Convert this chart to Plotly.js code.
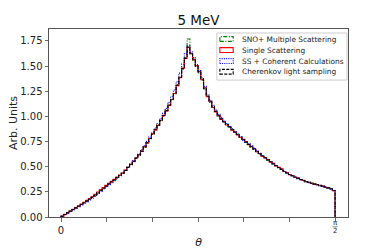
<!DOCTYPE html>
<html>
<head>
<meta charset="utf-8">
<script src="https://cdn.plot.ly/plotly-3.0.1.min.js"></script>
<style>html,body{margin:0;padding:0;background:#fff;}#chart{width:389px;height:249px;}</style>
</head>
<body>
<div id="chart"></div>
<script>
// Histogram: 100 bins between 0 and pi/2
const nBins = 100;
const thetaMax = Math.PI / 2;

const seriesNames = ["SNO+ Multiple Scattering", "Single Scattering", "SS + Coherent Calculations", "Cherenkov light sampling"];

const snoMultipleScattering = [0.008,0.024,0.041,0.057,0.074,0.090,0.108,0.125,0.142,0.160,
0.177,0.196,0.218,0.241,0.265,0.287,0.308,0.330,0.350,0.369,
0.393,0.414,0.437,0.463,0.495,0.523,0.550,0.586,0.617,0.652,
0.697,0.735,0.778,0.825,0.870,0.915,0.958,1.005,1.060,1.115,
1.165,1.225,1.315,1.388,1.470,1.585,1.770,1.620,1.560,1.495,
1.430,1.360,1.272,1.205,1.140,1.090,1.050,1.000,0.978,0.942,
0.922,0.893,0.870,0.840,0.822,0.792,0.770,0.742,0.725,0.695,
0.677,0.650,0.630,0.604,0.588,0.565,0.550,0.528,0.512,0.490,
0.475,0.453,0.438,0.422,0.411,0.396,0.386,0.372,0.363,0.351,
0.345,0.335,0.329,0.320,0.315,0.306,0.299,0.289,0.282,0.264];

const singleScattering = [0.009,0.026,0.043,0.060,0.077,0.094,0.111,0.128,0.146,0.165,
0.184,0.204,0.225,0.248,0.272,0.294,0.314,0.334,0.354,0.374,
0.396,0.417,0.438,0.466,0.494,0.524,0.556,0.588,0.618,0.656,
0.698,0.738,0.782,0.826,0.866,0.911,0.962,1.010,1.055,1.110,
1.168,1.228,1.305,1.385,1.480,1.575,1.685,1.625,1.565,1.505,
1.445,1.365,1.285,1.195,1.150,1.090,1.045,1.010,0.970,0.950,
0.915,0.900,0.862,0.848,0.815,0.790,0.772,0.750,0.718,0.702,
0.680,0.648,0.632,0.602,0.590,0.572,0.545,0.534,0.508,0.495,
0.478,0.452,0.440,0.420,0.412,0.395,0.388,0.370,0.364,0.350,
0.346,0.338,0.325,0.323,0.311,0.309,0.296,0.292,0.279,0.262];

const ssCoherent = [0.007,0.023,0.039,0.055,0.071,0.087,0.103,0.120,0.136,0.153,
0.170,0.188,0.208,0.230,0.254,0.278,0.300,0.322,0.342,0.362,
0.386,0.410,0.432,0.462,0.494,0.526,0.560,0.592,0.625,0.668,
0.708,0.752,0.796,0.838,0.884,0.930,0.978,1.030,1.080,1.140,
1.195,1.262,1.345,1.430,1.520,1.625,1.700,1.640,1.585,1.515,
1.455,1.385,1.300,1.215,1.160,1.110,1.065,1.020,0.990,0.955,
0.930,0.900,0.878,0.850,0.825,0.798,0.762,0.740,0.728,0.705,
0.682,0.660,0.634,0.612,0.592,0.570,0.552,0.528,0.512,0.490,
0.472,0.452,0.436,0.420,0.408,0.395,0.382,0.371,0.360,0.350,
0.342,0.333,0.327,0.319,0.312,0.305,0.297,0.288,0.279,0.262];

const cherenkovSampling = [0.008,0.025,0.041,0.058,0.074,0.091,0.107,0.124,0.141,0.158,
0.176,0.195,0.216,0.240,0.264,0.286,0.307,0.328,0.348,0.368,
0.391,0.413,0.435,0.464,0.493,0.521,0.552,0.584,0.615,0.654,
0.695,0.737,0.780,0.823,0.868,0.913,0.960,1.007,1.058,1.113,
1.170,1.230,1.310,1.390,1.475,1.580,1.690,1.630,1.570,1.500,
1.440,1.370,1.280,1.200,1.145,1.095,1.050,1.005,0.975,0.945,
0.920,0.895,0.868,0.843,0.820,0.795,0.768,0.745,0.722,0.698,
0.675,0.652,0.628,0.606,0.587,0.568,0.549,0.530,0.510,0.492,
0.473,0.455,0.437,0.423,0.410,0.397,0.385,0.373,0.362,0.352,
0.344,0.336,0.328,0.321,0.314,0.307,0.298,0.290,0.281,0.263];

const yTickVals = [0, 0.25, 0.5, 0.75, 1.0, 1.25, 1.5, 1.75];
const xTickVals = [0, Math.PI/12, 2*Math.PI/12, 3*Math.PI/12, 4*Math.PI/12, 5*Math.PI/12, Math.PI/2];
const xTickText = ["0", "", "", "", "", "", ""];

// step outline like a matplotlib step histogram
function stepTrace(vals, name, color, dash) {
  const edges = [];
  for (let i = 0; i <= nBins; i++) edges.push(i * thetaMax / nBins);
  const x = [edges[0]], y = [0];
  for (let i = 0; i < nBins; i++) { x.push(edges[i]); y.push(vals[i]); }
  x.push(edges[nBins]); y.push(vals[nBins-1]);
  x.push(edges[nBins]); y.push(0);
  return {x: x, y: y, type: "scatter", mode: "lines", name: name,
          line: {shape: "hv", color: color, width: 1.1, dash: dash},
          showlegend: false, hoverinfo: "skip"};
}

const colors = ["#008000", "#ff0000", "#0000ff", "#000000"];
const dashes = ["4px,1.5px,1px,1.5px", "solid", "1px,1.2px", "3px,1.4px"];
const allSeries = [snoMultipleScattering, singleScattering, ssCoherent, cherenkovSampling];
const traces = allSeries.map((s, i) => stepTrace(s, seriesNames[i], colors[i], dashes[i]));

// plot-area geometry (px) for the hand-made legend
const L = 49.3, R = 348, T = 29, B = 216.7;
const px2x = p => (p - L) / (R - L);
const px2y = p => (B - p) / (B - T);

const shapes = [];
const annotations = [];
shapes.push({type: "rect", xref: "paper", yref: "paper",
  x0: px2x(217), x1: px2x(347), y0: px2y(80), y1: px2y(33),
  line: {color: "#cccccc", width: 1}, fillcolor: "rgba(255,255,255,0.85)", layer: "above"});
const rowY = [39, 50, 61, 71.7];
for (let i = 0; i < 4; i++) {
  shapes.push({type: "rect", xref: "paper", yref: "paper",
    x0: px2x(220), x1: px2x(233.3), y0: px2y(rowY[i] + 2.4), y1: px2y(rowY[i] - 2.4),
    line: {color: colors[i], width: 1.1, dash: dashes[i]},
    fillcolor: "rgba(0,0,0,0)", layer: "above"});
  annotations.push({xref: "paper", yref: "paper", x: px2x(240), y: px2y(rowY[i]),
    xanchor: "left", yanchor: "middle", showarrow: false, text: seriesNames[i],
    font: {family: "DejaVu Sans", size: 7.4, color: "#222"}});
}
// pi/2 tick label as stacked fraction
annotations.push({xref: "x", yref: "paper", x: Math.PI/2, y: px2y(222.5), xanchor: "center", yanchor: "middle",
  showarrow: false, text: "π", font: {family: "DejaVu Sans", size: 7, color: "#222"}});
annotations.push({xref: "x", yref: "paper", x: Math.PI/2, y: px2y(230.5), xanchor: "center", yanchor: "middle",
  showarrow: false, text: "2", font: {family: "DejaVu Sans", size: 7, color: "#222"}});
shapes.push({type: "line", xref: "x", yref: "paper", x0: Math.PI/2 - 0.014, x1: Math.PI/2 + 0.014,
  y0: px2y(226.5), y1: px2y(226.5), line: {color: "#555", width: 0.7}});

const layout = {
  width: 389, height: 249,
  margin: {l: 49, r: 41, t: 29, b: 32, pad: 0},
  paper_bgcolor: "#fff", plot_bgcolor: "#fff",
  font: {family: "DejaVu Sans", color: "#222"},
  title: {text: "5 MeV", font: {family: "DejaVu Sans", size: 13.5, color: "#111"},
          x: 0.5, xref: "paper", y: 1 - 20.5/249, yref: "container", xanchor: "center", yanchor: "middle"},
  xaxis: {range: [-0.069, 1.645], tickmode: "array", tickvals: xTickVals, ticktext: xTickText,
          ticks: "outside", ticklen: 3.5, tickwidth: 0.8, tickcolor: "#444",
          showline: true, linecolor: "#555", linewidth: 1, mirror: true,
          showgrid: false, zeroline: false, tickfont: {size: 10, color: "#222"},
          title: {text: "<i>θ</i>", font: {size: 11, color: "#222"}, standoff: 3}},
  yaxis: {range: [0, 1.869], tickmode: "array", tickvals: yTickVals, tickformat: ".2f",
          ticks: "outside", ticklen: 3.5, tickwidth: 0.8, tickcolor: "#444",
          showline: true, linecolor: "#555", linewidth: 1, mirror: true,
          showgrid: false, zeroline: false, tickfont: {size: 10, color: "#222"},
          title: {text: "Arb. Units", font: {size: 11, color: "#222"}, standoff: 0}},
  shapes: shapes,
  annotations: annotations,
  showlegend: false
};

Plotly.newPlot("chart", traces, layout, {staticPlot: true, displayModeBar: false});
</script>
</body>
</html>
